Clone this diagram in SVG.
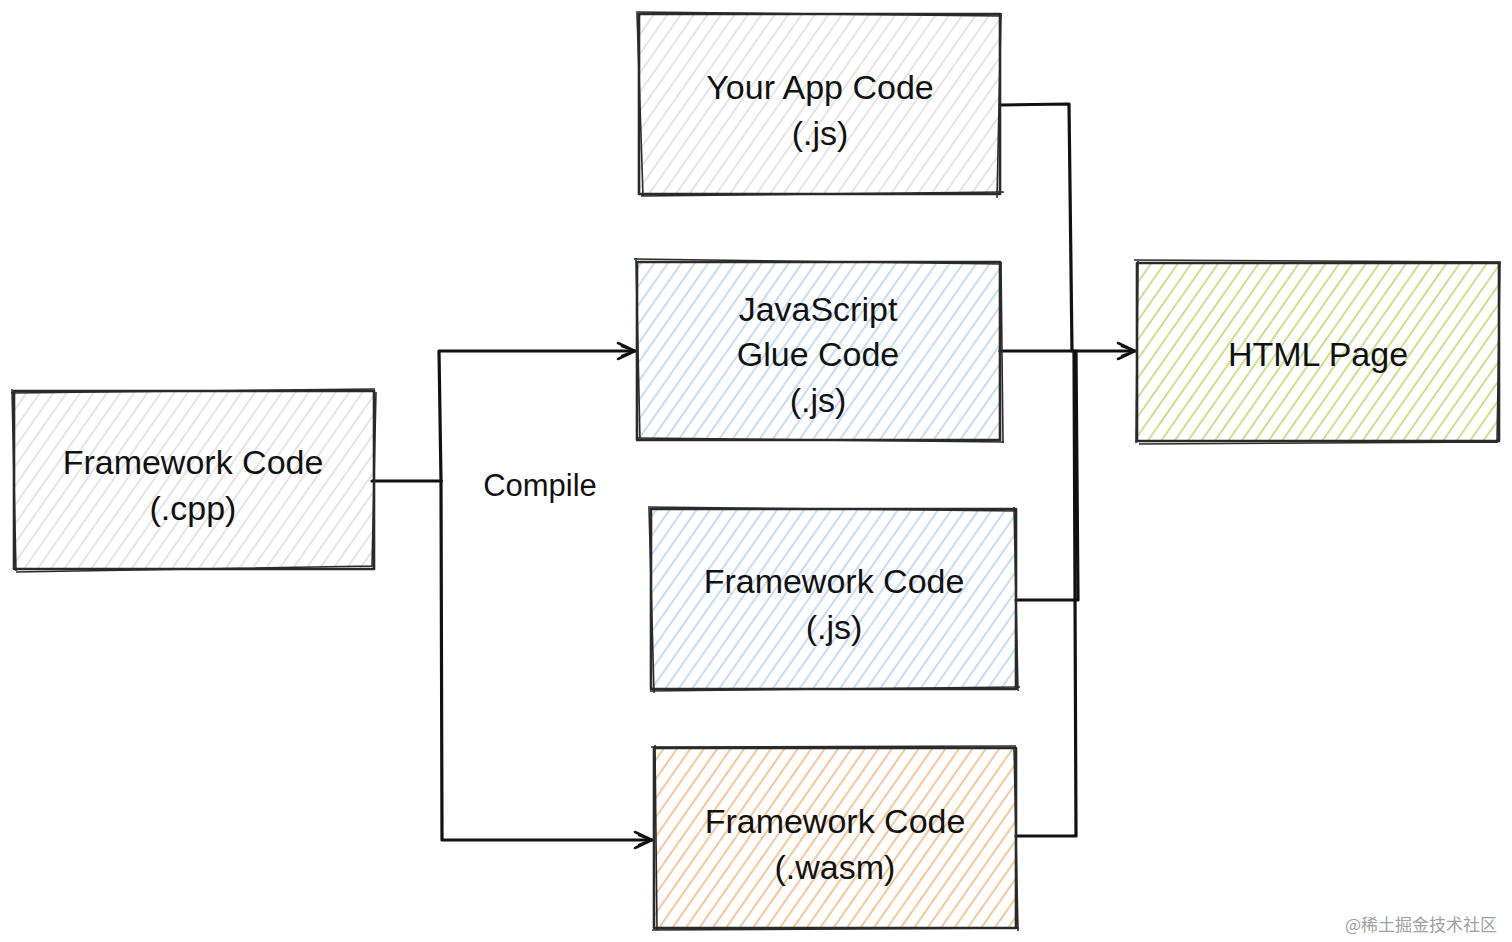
<svg xmlns="http://www.w3.org/2000/svg" width="1512" height="942" viewBox="0 0 1512 942">
<defs>
<pattern id="hGray" width="11" height="11" patternUnits="userSpaceOnUse" patternTransform="rotate(35)"><line x1="5" y1="0" x2="5" y2="11" stroke="#dedede" stroke-width="1.6"/></pattern>
<pattern id="hBlue" width="11" height="11" patternUnits="userSpaceOnUse" patternTransform="rotate(35)"><line x1="5" y1="0" x2="5" y2="11" stroke="#b7d3f5" stroke-width="1.6"/></pattern>
<pattern id="hOrange" width="11" height="11" patternUnits="userSpaceOnUse" patternTransform="rotate(35)"><line x1="5" y1="0" x2="5" y2="11" stroke="#f5bd85" stroke-width="1.7"/></pattern>
<pattern id="hGreen" width="11" height="11" patternUnits="userSpaceOnUse" patternTransform="rotate(35)"><line x1="5" y1="0" x2="5" y2="11" stroke="#bedd7a" stroke-width="1.7"/></pattern>
<marker id="arr" viewBox="0 0 22 22" refX="20" refY="11" markerWidth="22" markerHeight="22" markerUnits="userSpaceOnUse" orient="auto">
<path d="M3,3 L20,11 L3,19 M7,6 L20,11 L7,16" fill="none" stroke="#111" stroke-width="2.6" stroke-linejoin="round" stroke-linecap="round"/>
</marker>
<style>
.box{stroke:#2a2a2a;stroke-width:2.6;stroke-linejoin:round}
.sk{fill:none;stroke:#2a2a2a;stroke-width:1.6}
.lbl{font-family:"Liberation Sans","Noto Sans",sans-serif;font-size:34px;fill:#111;text-anchor:middle}
.con{fill:none;stroke:#111;stroke-width:3.2;stroke-linejoin:round;stroke-linecap:round}
.wm{font-family:"Noto Sans CJK SC","Noto Sans",sans-serif;font-size:17px;fill:#a0a0a0}
</style>
</defs>
<rect width="1512" height="942" fill="#ffffff"/>

<g id="connectors">
<path class="con" d="M372,481 L441,481"/>
<path class="con" d="M441,481 L439,351 L635,351" marker-end="url(#arr)"/>
<path class="con" d="M441,481 L442,840 L652,840" marker-end="url(#arr)"/>
<path class="con" d="M1000,105 L1069,104 L1072,351"/>
<path class="con" d="M1000,351 L1135,351" marker-end="url(#arr)"/>
<path class="con" d="M1016,600 L1078,600 L1076,351"/>
<path class="con" d="M1016,836 L1076,836 L1074,351"/>
</g>

<g id="node-cpp">
<rect x="14" y="391" width="360" height="178" fill="url(#hGray)" class="box"/>
<path class="sk" d="M11,393 L375,389 M16,572 L372,566 M12,389 L16,571 M376,392 L372,567"/>
<text class="lbl" x="193" y="474">Framework Code</text>
<text class="lbl" x="193" y="520">(.cpp)</text>
</g>

<g id="node-app">
<rect x="639" y="14" width="361" height="180" fill="url(#hGray)" class="box"/>
<path class="sk" d="M636,12 L1002,16 M641,196 L1004,192 M637,13 L643,196 M1001,13 L997,198"/>
<text class="lbl" x="820" y="99">Your App Code</text>
<text class="lbl" x="820" y="145">(.js)</text>
</g>

<g id="node-glue">
<rect x="637" y="262" width="363" height="178" fill="url(#hBlue)" class="box"/>
<path class="sk" d="M634,259 L1002,264 M637,438 L1004,442 M636,258 L640,441 M1001,262 L1003,443"/>
<text class="lbl" x="818" y="321">JavaScript</text>
<text class="lbl" x="818" y="366">Glue Code</text>
<text class="lbl" x="818" y="412">(.js)</text>
</g>

<g id="node-fwjs">
<rect x="651" y="509" width="365" height="180" fill="url(#hBlue)" class="box"/>
<path class="sk" d="M648,507 L1017,511 M650,691 L1020,687 M649,508 L654,693 M1014,507 L1018,691"/>
<text class="lbl" x="834" y="593">Framework Code</text>
<text class="lbl" x="834" y="639">(.js)</text>
</g>

<g id="node-wasm">
<rect x="654" y="748" width="362" height="180" fill="url(#hOrange)" class="box"/>
<path class="sk" d="M651,747 L1016,746 M652,930 L1019,928 M655,745 L657,930 M1014,746 L1018,931"/>
<text class="lbl" x="835" y="833">Framework Code</text>
<text class="lbl" x="835" y="879">(.wasm)</text>
</g>

<g id="node-html">
<rect x="1137" y="263" width="362" height="178" fill="url(#hGreen)" class="box"/>
<path class="sk" d="M1134,260 L1501,262 M1139,444 L1497,442 M1138,261 L1136,443 M1500,262 L1497,443"/>
<text class="lbl" x="1318" y="366">HTML Page</text>
</g>

<g id="label-compile">
<text class="lbl" x="540" y="496" style="font-size:31px">Compile</text>
</g>

<text class="wm" x="1345" y="931">@稀土掘金技术社区</text>
</svg>
